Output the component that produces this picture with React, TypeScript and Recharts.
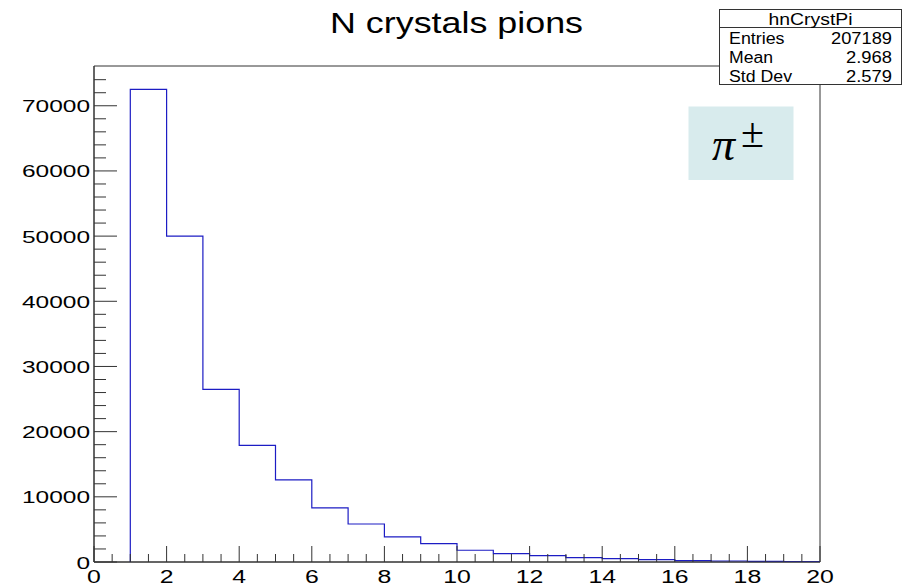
import { LineChart, Line, XAxis, YAxis, ReferenceArea } from "recharts";

// bins of width 1, lower edges 1..19
const binLowEdges = [1, 2, 3, 4, 5, 6, 7, 8, 9, 10, 11, 12, 13, 14, 15, 16, 17, 18, 19];
const binCounts = [
  72500, 50000, 26500, 17900, 12600, 8300, 5830, 3840, 2820, 1800,
  1290, 980, 680, 520, 370, 200, 150, 110, 80,
];

const xTickLabels = ["0", "2", "4", "6", "8", "10", "12", "14", "16", "18", "20"];
const yTickLabels = ["0", "10000", "20000", "30000", "40000", "50000", "60000", "70000"];

const statsNames = ["Entries", "Mean", "Std Dev"];
const statsValues = ["207189", "2.968", "2.579"];
const statsNameWidths = [55.5, 44, 63];
const statsValueWidths = [61, 46, 46];

const X_MAX = 20;
const Y_MAX = 76100;
const frameColor = "#333333";
const lineColor = "#1c1cc4";
const font = "'Liberation Sans', Arial, Helvetica, sans-serif";
const serif = "'Liberation Serif', 'Times New Roman', serif";

// stepBefore outline: start at (1,0), then each bin's count at its upper edge
const histData = [{ x: binLowEdges[0], n: 0 }].concat(
  binLowEdges.map((lo, i) => ({ x: lo + 1, n: binCounts[i] }))
);

// major + minor tick positions
const xTicks: number[] = [];
for (let v = 0; v <= X_MAX; v += 0.5) xTicks.push(v);
const yTicks: number[] = [];
for (let v = 0; v <= 74000; v += 2000) yTicks.push(v);

const xMajor = xTickLabels.map(Number);
const yMajor = yTickLabels.map(Number);

function XTick(props: any) {
  const { x, y, payload } = props;
  const major = xMajor.includes(payload.value);
  const label = String(payload.value);
  return (
    <g>
      <line x1={x} x2={x} y1={y} y2={y - (major ? 16 : 8)} stroke={frameColor} strokeWidth={1} />
      {major && (
        <text
          x={x}
          y={y + 20.5}
          textAnchor="middle"
          fontFamily={font}
          fontSize={18}
          fill="#000"
          textLength={13.8 * label.length}
          lengthAdjust="spacingAndGlyphs"
        >
          {label}
        </text>
      )}
    </g>
  );
}

function YTick(props: any) {
  const { x, y, payload } = props;
  const major = yMajor.includes(payload.value);
  const label = String(payload.value);
  return (
    <g>
      <line x1={x} x2={x + (major ? 23 : 12)} y1={y} y2={y} stroke={frameColor} strokeWidth={1} />
      {major && (
        <text
          x={x - 4}
          y={y + 6.5}
          textAnchor="end"
          fontFamily={font}
          fontSize={17}
          fill="#000"
          textLength={13.6 * label.length}
          lengthAdjust="spacingAndGlyphs"
        >
          {label}
        </text>
      )}
    </g>
  );
}

function Overlay() {
  return (
    <svg
      width={908}
      height={585}
      style={{ position: "absolute", left: 0, top: 0, pointerEvents: "none" }}
    >
      <text
        x={456.5}
        y={33.3}
        textAnchor="middle"
        fontFamily={font}
        fontSize={30}
        fill="#000"
        textLength={253}
        lengthAdjust="spacingAndGlyphs"
      >
        N crystals pions
      </text>

      {/* stats box */}
      <rect x={719.5} y={9.5} width={182} height={75} fill="#fff" stroke={frameColor} />
      <line x1={719.5} x2={901.5} y1={27.5} y2={27.5} stroke={frameColor} />
      <text
        x={810.5}
        y={25}
        textAnchor="middle"
        fontFamily={font}
        fontSize={16}
        fill="#000"
        textLength={84}
        lengthAdjust="spacingAndGlyphs"
      >
        hnCrystPi
      </text>
      {statsNames.map((name, i) => (
        <g key={name}>
          <text
            x={729}
            y={44.3 + i * 19}
            fontFamily={font}
            fontSize={16}
            fill="#000"
            textLength={statsNameWidths[i]}
            lengthAdjust="spacingAndGlyphs"
          >
            {name}
          </text>
          <text
            x={892}
            y={44.3 + i * 19}
            textAnchor="end"
            fontFamily={font}
            fontSize={16}
            fill="#000"
            textLength={statsValueWidths[i]}
            lengthAdjust="spacingAndGlyphs"
          >
            {statsValues[i]}
          </text>
        </g>
      ))}

      {/* particle label */}
      <rect x={688.5} y={106.5} width={105} height={73.5} fill="#d8ebed" />
      <text x={712} y={160} fontFamily={serif} fontStyle="italic" fontSize={46} fill="#000">
        π
      </text>
      <text x={741} y={147} fontFamily={serif} fontSize={42} fill="#000">
        ±
      </text>
    </svg>
  );
}

export default function App() {
  return (
    <div style={{ position: "absolute", left: 0, top: 0, width: 908, height: 585, background: "#fff" }}>
      <LineChart
        width={908}
        height={585}
        data={histData}
        margin={{ top: 66, right: 88, left: 0, bottom: 0 }}
      >
        <XAxis
          dataKey="x"
          type="number"
          domain={[0, X_MAX]}
          ticks={xTicks}
          interval={0}
          height={23}
          tickSize={0}
          tickMargin={0}
          tickLine={false}
          axisLine={{ stroke: frameColor }}
          tick={<XTick />}
          allowDataOverflow
        />
        <YAxis
          type="number"
          domain={[0, Y_MAX]}
          ticks={yTicks}
          interval={0}
          width={94}
          tickSize={0}
          tickMargin={0}
          tickLine={false}
          axisLine={{ stroke: frameColor }}
          tick={<YTick />}
          allowDataOverflow
        />
        <ReferenceArea x1={0} x2={X_MAX} y1={0} y2={Y_MAX} fill="none" stroke={frameColor} strokeWidth={1} />
        <Line
          type="stepBefore"
          dataKey="n"
          stroke={lineColor}
          strokeWidth={1.2}
          dot={false}
          activeDot={false}
          isAnimationActive={false}
        />
      </LineChart>
      <Overlay />
    </div>
  );
}
